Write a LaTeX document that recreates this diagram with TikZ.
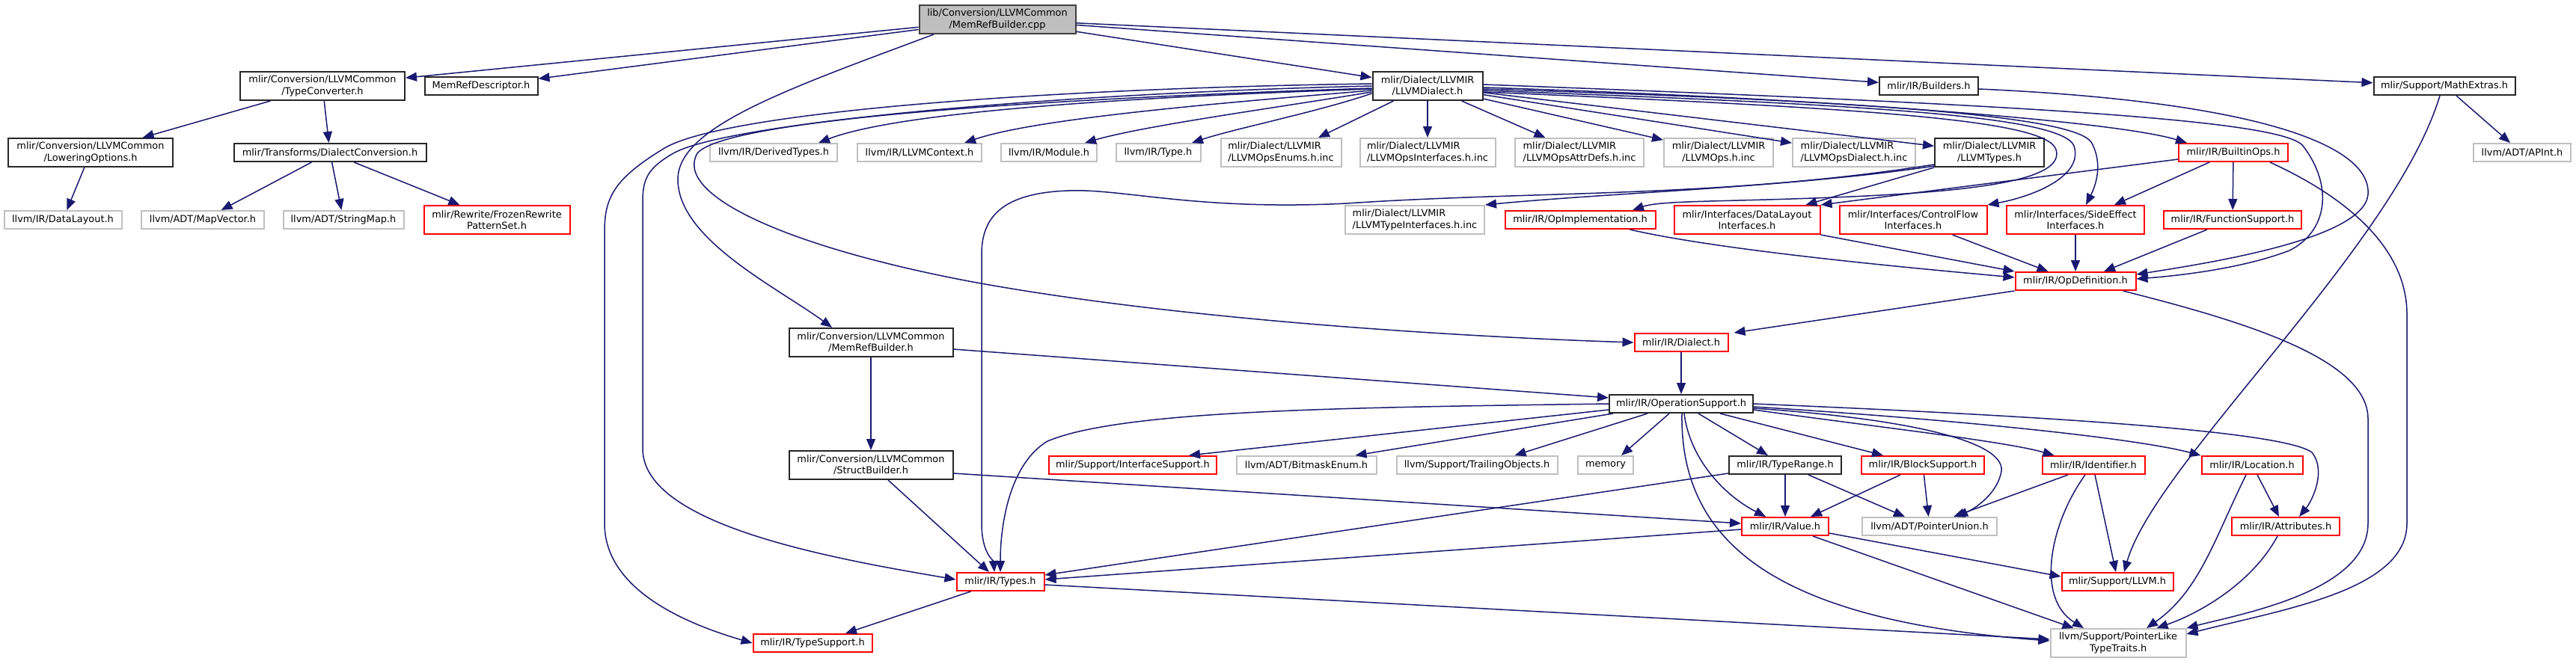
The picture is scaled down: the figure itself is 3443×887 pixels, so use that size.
\documentclass[tikz,border=0pt]{standalone}
\usepackage{fontspec}
\setmainfont{DejaVu Sans}
\usetikzlibrary{arrows.meta,calc}
\definecolor{edgeblue}{HTML}{191970}
\definecolor{gryc}{HTML}{BFBFBF}
\begin{document}
\begin{tikzpicture}[x=1pt,y=-1pt,
 box/.style={draw,line width=2pt,inner sep=0pt,align=center,font=\fontsize{12.9}{15.2}\selectfont,fill=white},
 bk/.style={box,draw=black!85},
 rd/.style={box,draw=red},
 gr/.style={box,draw=gryc},
 rt/.style={box,draw=black!75,fill=gryc},
 e/.style={draw=edgeblue,line width=1.5pt,-{Triangle[length=15pt,width=12pt]}}]
\fill[white] (0,0) rectangle (3443,887);
\useasboundingbox (0,0) rectangle (3443,887);
% nodes
\node[rt,minimum width=209pt,minimum height=38pt] (root) at (1333,26) {lib/Conversion/LLVMCommon\\/MemRefBuilder.cpp};
\node[bk,minimum width=220pt,minimum height=38pt] (tc) at (431,115) {mlir/Conversion/LLVMCommon\\/TypeConverter.h};
\node[bk,minimum width=151pt,minimum height=24pt] (mrd) at (643,115) {MemRefDescriptor.h};
\node[bk,minimum width=220pt,minimum height=38pt] (lo) at (121,204) {mlir/Conversion/LLVMCommon\\/LoweringOptions.h};
\node[bk,minimum width=257pt,minimum height=24pt] (dc) at (441,204) {mlir/Transforms/DialectConversion.h};
\node[gr,minimum width=157pt,minimum height=24pt] (dl) at (84,294) {llvm/IR/DataLayout.h};
\node[gr,minimum width=164pt,minimum height=24pt] (mv) at (271,294) {llvm/ADT/MapVector.h};
\node[gr,minimum width=161pt,minimum height=24pt] (sm) at (459,294) {llvm/ADT/StringMap.h};
\node[rd,minimum width=195pt,minimum height=38pt] (frp) at (664,294) {mlir/Rewrite/FrozenRewrite\\PatternSet.h};
\node[bk,minimum width=147pt,minimum height=38pt] (lld) at (1908,115) {mlir/Dialect/LLVMIR\\/LLVMDialect.h};
\node[bk,minimum width=132pt,minimum height=24pt] (bld) at (2578,115) {mlir/IR/Builders.h};
\node[bk,minimum width=189pt,minimum height=24pt] (mex) at (3267,115) {mlir/Support/MathExtras.h};
\node[gr,minimum width=170pt,minimum height=24pt] (dt) at (1034,204) {llvm/IR/DerivedTypes.h};
\node[gr,minimum width=166pt,minimum height=24pt] (ctx) at (1229,204) {llvm/IR/LLVMContext.h};
\node[gr,minimum width=128pt,minimum height=24pt] (mod) at (1402,204) {llvm/IR/Module.h};
\node[gr,minimum width=113pt,minimum height=24pt] (typ) at (1548,204) {llvm/IR/Type.h};
\node[gr,minimum width=161pt,minimum height=38pt,align=left] (enums) at (1712,204) {mlir/Dialect/LLVMIR\\/LLVMOpsEnums.h.inc};
\node[gr,minimum width=181pt,minimum height=38pt,align=left] (oi) at (1908,204) {mlir/Dialect/LLVMIR\\/LLVMOpsInterfaces.h.inc};
\node[gr,minimum width=172pt,minimum height=38pt,align=left] (ad) at (2111,204) {mlir/Dialect/LLVMIR\\/LLVMOpsAttrDefs.h.inc};
\node[gr,minimum width=146pt,minimum height=38pt] (ops) at (2297,204) {mlir/Dialect/LLVMIR\\/LLVMOps.h.inc};
\node[gr,minimum width=164pt,minimum height=38pt,align=left] (od) at (2478,204) {mlir/Dialect/LLVMIR\\/LLVMOpsDialect.h.inc};
\node[bk,minimum width=146pt,minimum height=38pt] (lt) at (2659,204) {mlir/Dialect/LLVMIR\\/LLVMTypes.h};
\node[rd,minimum width=146pt,minimum height=24pt] (bops) at (2985,204) {mlir/IR/BuiltinOps.h};
\node[gr,minimum width=130pt,minimum height=24pt] (api) at (3371,204) {llvm/ADT/APInt.h};
\node[gr,minimum width=186pt,minimum height=38pt,align=left] (lti) at (1891,294) {mlir/Dialect/LLVMIR\\/LLVMTypeInterfaces.h.inc};
\node[rd,minimum width=201pt,minimum height=24pt] (oim) at (2112,294) {mlir/IR/OpImplementation.h};
\node[rd,minimum width=195pt,minimum height=38pt] (dli) at (2335,294) {mlir/Interfaces/DataLayout\\Interfaces.h};
\node[rd,minimum width=197pt,minimum height=38pt] (cfi) at (2557,294) {mlir/Interfaces/ControlFlow\\Interfaces.h};
\node[rd,minimum width=184pt,minimum height=38pt] (sei) at (2774,294) {mlir/Interfaces/SideEffect\\Interfaces.h};
\node[rd,minimum width=184pt,minimum height=24pt] (fs) at (2984,294) {mlir/IR/FunctionSupport.h};
\node[rd,minimum width=161pt,minimum height=24pt] (odef) at (2774,376) {mlir/IR/OpDefinition.h};
\node[rd,minimum width=125pt,minimum height=24pt] (dia) at (2247,458) {mlir/IR/Dialect.h};
\node[bk,minimum width=219pt,minimum height=38pt] (mrb) at (1164,458) {mlir/Conversion/LLVMCommon\\/MemRefBuilder.h};
\node[bk,minimum width=192pt,minimum height=24pt] (os) at (2247,540) {mlir/IR/OperationSupport.h};
\node[bk,minimum width=219pt,minimum height=38pt] (sb) at (1164,622) {mlir/Conversion/LLVMCommon\\/StructBuilder.h};
\node[rd,minimum width=224pt,minimum height=24pt] (is) at (1514,622) {mlir/Support/InterfaceSupport.h};
\node[gr,minimum width=187pt,minimum height=24pt] (bme) at (1746,622) {llvm/ADT/BitmaskEnum.h};
\node[gr,minimum width=215pt,minimum height=24pt] (to) at (1974,622) {llvm/Support/TrailingObjects.h};
\node[gr,minimum width=74pt,minimum height=24pt] (mem) at (2146,622) {memory};
\node[bk,minimum width=150pt,minimum height=24pt] (tr) at (2386,622) {mlir/IR/TypeRange.h};
\node[rd,minimum width=164pt,minimum height=24pt] (bs) at (2570,622) {mlir/IR/BlockSupport.h};
\node[rd,minimum width=137pt,minimum height=24pt] (idn) at (2798,622) {mlir/IR/Identifier.h};
\node[rd,minimum width=135pt,minimum height=24pt] (loc) at (3010,622) {mlir/IR/Location.h};
\node[rd,minimum width=116pt,minimum height=24pt] (val) at (2386,704) {mlir/IR/Value.h};
\node[gr,minimum width=180pt,minimum height=24pt] (pu) at (2579,704) {llvm/ADT/PointerUnion.h};
\node[rd,minimum width=144pt,minimum height=24pt] (attr) at (3055,704) {mlir/IR/Attributes.h};
\node[rd,minimum width=117pt,minimum height=24pt] (types) at (1337,778) {mlir/IR/Types.h};
\node[rd,minimum width=149pt,minimum height=24pt] (llvmh) at (2830,778) {mlir/Support/LLVM.h};
\node[rd,minimum width=159pt,minimum height=24pt] (tsup) at (1086,860) {mlir/IR/TypeSupport.h};
\node[gr,minimum width=181pt,minimum height=38pt] (plt) at (2831,860) {llvm/Support/PointerLike\\TypeTraits.h};
% edges from root
\draw[e] (root) -- (tc);
\draw[e] (root) -- (mrd);
\draw[e] (root) -- (lld);
\draw[e] (root) -- (bld);
\draw[e] (root) -- (mex);
\draw[e] ($(root.south)+(-85,0)$) .. controls (1050,120) and (906,170) .. (906,240) .. controls (906,320) and (1040,385) .. ($(mrb.north)+(-52,0)$);
% type converter
\draw[e] (tc) -- (lo);
\draw[e] (tc) -- (dc);
\draw[e] (lo) -- (dl);
\draw[e] (dc) -- (mv);
\draw[e] (dc) -- (sm);
\draw[e] (dc) -- (frp);
% LLVMDialect left fan
\draw[e] ($(lld.west)+(0,4)$) .. controls (1500,130) and (1200,150) .. ($(dt.north)+(60,0)$);
\draw[e] ($(lld.west)+(0,6)$) .. controls (1600,140) and (1380,160) .. ($(ctx.north)+(60,0)$);
\draw[e] ($(lld.west)+(0,8)$) .. controls (1700,145) and (1530,168) .. ($(mod.north)+(48,0)$);
\draw[e] ($(lld.west)+(0,10)$) .. controls (1760,150) and (1650,172) .. ($(typ.north)+(45,0)$);
\draw[e] ($(lld.south west)+(29,0)$) -- ($(enums.north)+(50,0)$);
\draw[e] (lld) -- (oi);
\draw[e] (lld) -- (ad);
\draw[e] (lld) -- (ops);
\draw[e] (lld) -- (od);
\draw[e] (lld) -- (lt);
% LLVMDialect right curves
\draw[e] ($(lld.east)+(0,2)$) .. controls (2400,130) and (2820,160) .. ($(bops.north west)+(12,0)$);
\draw[e] ($(lld.east)+(0,-2)$) .. controls (2700,140) and (3050,160) .. (3078,195) .. controls (3120,250) and (3110,310) .. (3060,335) .. controls (3000,358) and (2920,368) .. ($(odef.east)+(0,-3)$);
\draw[e] ($(lld.east)+(0,4)$) .. controls (2500,135) and (2770,155) .. (2795,190) .. controls (2812,220) and (2800,250) .. ($(sei.north)+(14,0)$);
\draw[e] ($(lld.east)+(0,6)$) .. controls (2500,140) and (2755,155) .. (2772,195) .. controls (2785,235) and (2720,262) .. (cfi.north east);
\draw[e] ($(lld.east)+(0,8)$) .. controls (2500,145) and (2735,160) .. (2748,200) .. controls (2760,240) and (2650,256) .. (2450,264) .. controls (2300,270) and (2220,268) .. ($(oim.north)+(70,0)$);
% LLVMDialect long left curves
\draw[e] ($(lld.west)+(0,-3)$) .. controls (1400,118) and (960,150) .. (885,200) .. controls (820,240) and (808,265) .. (808,310) -- (808,700) .. controls (808,790) and (920,835) .. (tsup.west);
\draw[e] (lld.west) .. controls (1400,125) and (970,165) .. (900,205) .. controls (865,225) and (859,240) .. (859,270) -- (859,600) .. controls (859,700) and (1100,745) .. ($(types.west)+(0,-3)$);
\draw[e] ($(lld.west)+(0,3)$) .. controls (1300,135) and (965,165) .. (932,205) .. controls (900,260) and (1050,330) .. (1300,377) .. controls (1600,432) and (2000,452) .. (dia.west);
% LLVMTypes
\draw[e] ($(lt.south west)+(0,-2)$) .. controls (2400,250) and (2150,258) .. (lti.north east);
\draw[e] (lt.south west) -- ($(dli.north east)+(-20,0)$);
\draw[e] ($(lt.south west)+(0,-4)$) .. controls (2300,265) and (2050,255) .. (1800,272) .. controls (1600,282) and (1500,252) .. (1428,255) .. controls (1340,258) and (1312,290) .. (1312,340) -- (1312,700) .. controls (1312,740) and (1328,750) .. ($(types.north)+(-8,0)$);
% BuiltinOps
\draw[e] ($(bops.west)+(0,9)$) -- (dli.north east);
\draw[e] ($(bops.south)+(-32,0)$) -- ($(sei.north)+(52,0)$);
\draw[e] (bops) -- (fs);
\draw[e] ($(bops.south east)+(-25,0)$) .. controls (3150,270) and (3217,340) .. (3217,420) -- (3217,700) .. controls (3217,790) and (3050,815) .. ($(plt.north east)+(0,8)$);
% Builders
\draw[e] ($(bld.east)+(0,4)$) .. controls (3000,135) and (3170,190) .. (3165,260) .. controls (3160,320) and (2950,352) .. ($(odef.east)+(0,-9)$);
% into OpDefinition
\draw[e] ($(cfi.south east)+(-47,0)$) -- ($(odef.north west)+(45,0)$);
\draw[e] (sei) -- (odef);
\draw[e] ($(fs.south)+(-34,0)$) -- ($(odef.north)+(38,0)$);
\draw[e] (dli.south east) -- (odef.north west);
\draw[e] ($(oim.south east)+(-35,0)$) .. controls (2300,335) and (2550,358) .. ($(odef.west)+(0,-5)$);
% OpDefinition out
\draw[e] ($(odef.south east)+(-18,0)$) .. controls (3000,430) and (3165,480) .. (3165,560) -- (3165,700) .. controls (3165,790) and (3000,820) .. (plt.north east);
\draw[e] (odef.south west) -- ($(dia.north east)+(7,0)$);
\draw[e] (dia) -- (os);
% MathExtras
\draw[e] ($(mex.south)+(-6,0)$) .. controls (3200,330) and (2880,620) .. ($(llvmh.north)+(9,0)$);
\draw[e] ($(mex.south)+(16,0)$) -- ($(api.north)+(-16,0)$);
% MemRefBuilder, StructBuilder, Types
\draw[e] (mrb) -- (sb);
\draw[e] ($(mrb.east)+(0,9)$) -- ($(os.west)+(0,-8)$);
\draw[e] ($(sb.south)+(23,0)$) -- ($(types.north)+(-15,0)$);
\draw[e] ($(sb.east)+(0,11)$) -- ($(val.west)+(0,-4)$);
\draw[e] ($(types.south west)+(20,0)$) -- ($(tsup.north)+(44,0)$);
\draw[e] ($(types.east)+(0,4)$) -- ($(plt.west)+(0,-5)$);
% OperationSupport
\draw[e] (os.west) .. controls (1800,545) and (1500,548) .. (1400,590) .. controls (1350,620) and (1337,700) .. (types.north);
\draw[e] ($(os.west)+(0,8)$) -- ($(is.north east)+(-38,0)$);
\draw[e] ($(os.south west)+(6,0)$) -- ($(bme.north east)+(-29,0)$);
\draw[e] ($(os.south)+(-45,0)$) -- ($(to.north east)+(-58,0)$);
\draw[e] ($(os.south)+(-16,0)$) -- ($(mem.north)+(21,0)$);
\draw[e] ($(os.south)+(23,0)$) -- ($(tr.north)+(-23,0)$);
\draw[e] ($(os.south)+(52,0)$) -- ($(bs.north west)+(30,0)$);
\draw[e] ($(os.south)+(4,0)$) .. controls (2258,610) and (2300,660) .. ($(val.north)+(-26,0)$);
\draw[e] ($(os.south)+(1,0)$) .. controls (2245,730) and (2380,830) .. ($(plt.west)+(0,-3)$);
\draw[e] ($(os.east)+(0,6)$) .. controls (2550,560) and (2680,590) .. (2675,630) .. controls (2670,660) and (2640,680) .. ($(pu.north east)+(-55,0)$);
\draw[e] ($(os.east)+(0,8)$) .. controls (2500,570) and (2680,590) .. ($(idn.north west)+(17,0)$);
\draw[e] ($(os.east)+(0,4)$) .. controls (2600,560) and (2850,585) .. (loc.north west);
\draw[e] (os.east) .. controls (2700,555) and (3050,575) .. (3090,605) .. controls (3110,630) and (3090,670) .. ($(attr.north)+(18,0)$);
% Value
\draw[e] ($(val.west)+(0,4)$) -- ($(types.east)+(0,-3)$);
\draw[e] ($(val.east)+(0,9)$) -- ($(llvmh.west)+(0,-7)$);
\draw[e] ($(val.south east)+(-22,0)$) -- ($(plt.north west)+(32,0)$);
% TypeRange
\draw[e] ($(tr.south west)+(0,-2)$) -- ($(types.east)+(0,-9)$);
\draw[e] (tr) -- (val);
\draw[e] ($(tr.south)+(31,0)$) -- ($(pu.north)+(-33,0)$);
% BlockSupport
\draw[e] ($(bs.south)+(-30,0)$) -- ($(val.north)+(34,0)$);
\draw[e] (bs) -- (pu);
% Identifier
\draw[e] ($(idn.south)+(-34,0)$) -- ($(pu.north east)+(-59,0)$);
\draw[e] ($(idn.south)+(2,0)$) -- ($(llvmh.north)+(-2,0)$);
\draw[e] ($(idn.south)+(-11,0)$) .. controls (2740,700) and (2720,800) .. ($(plt.north)+(-46,0)$);
% Location, Attributes
\draw[e] ($(loc.south)+(7,0)$) -- ($(attr.north)+(-9,0)$);
\draw[e] ($(loc.south)+(-8,0)$) .. controls (2960,720) and (2940,790) .. ($(plt.north)+(38,0)$);
\draw[e] ($(attr.south)+(-11,0)$) .. controls (3010,780) and (2940,820) .. ($(plt.north east)+(-40,0)$);
\end{tikzpicture}
\end{document}
